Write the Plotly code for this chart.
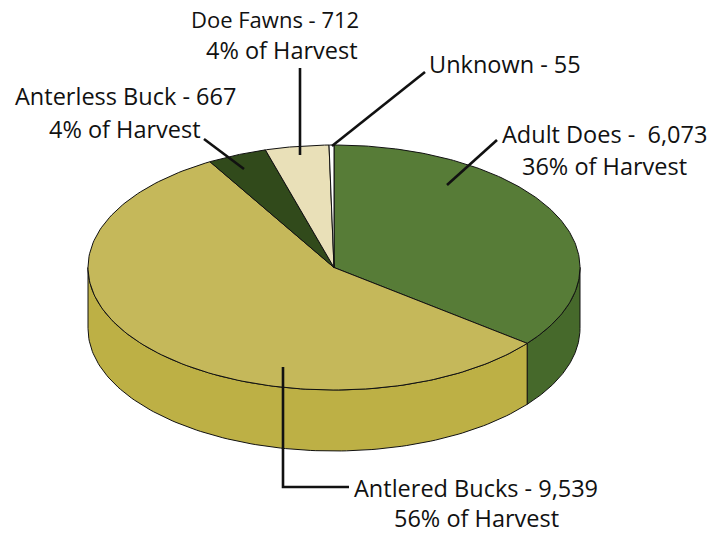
import numpy as np
import plotly.graph_objects as go

names = ["Adult Does", "Antlered Bucks", "Anterless Buck", "Doe Fawns", "Unknown"]
values = [6073, 9539, 667, 712, 55]
label_texts = [
    "Adult Does -  6,073", "36% of Harvest",
    "Antlered Bucks - 9,539", "56% of Harvest",
    "Anterless Buck - 667", "4% of Harvest",
    "Doe Fawns - 712", "4% of Harvest",
    "Unknown - 55",
]

# Styles and layout
top_colors = ["#577c37", "#c5b85a", "#314a1b", "#e9e0b8", "#ffffff"]
side_colors = ["#46692b", "#bdb045", "#314a1b", "#e9e0b8", "#ffffff"]
label_places = [
    (604, 134, 23.5), (604, 166, 23.5),
    (476, 488, 23.5), (476, 518, 23.5),
    (125, 96, 23.5), (125, 129, 23.5),
    (275, 19, 22), (282, 50, 23.5),
    (505, 64, 23.5),
]
leaders = [
    [(447, 185), (497, 140)],
    [(283, 367), (283, 487), (349, 487)],
    [(204, 139), (244, 169)],
    [(300, 68), (300, 155)],
    [(332, 146), (425, 72)],
]

cx, cy, rx, ry, depth = 334, 267.5, 246, 122.5, 61


def ex(t):
    return cx + rx * np.sin(t)


def ey(t):
    return cy - ry * np.cos(t)


fractions = np.array(values) / sum(values)
edges = np.concatenate([[0], np.cumsum(fractions)]) * 2 * np.pi

fig = go.Figure()

# Side wall: visible only on the front half of the disc
for i, name in enumerate(names):
    a, b = max(edges[i], np.pi / 2), min(edges[i + 1], 3 * np.pi / 2)
    if b <= a:
        continue
    t = np.linspace(a, b, 120)
    xs = np.concatenate([ex(t), ex(t[::-1])])
    ys = np.concatenate([ey(t), ey(t[::-1]) + depth])
    fig.add_trace(go.Scatter(x=np.append(xs, xs[0]), y=np.append(ys, ys[0]), mode="lines",
                             fill="toself", fillcolor=side_colors[i],
                             line=dict(color="#111111", width=1), hoverinfo="skip"))

# Top face
for i, name in enumerate(names):
    t = np.linspace(edges[i], edges[i + 1], 160)
    xs = np.concatenate([[cx], ex(t), [cx]])
    ys = np.concatenate([[cy], ey(t), [cy]])
    fig.add_trace(go.Scatter(x=xs, y=ys, mode="lines", fill="toself", fillcolor=top_colors[i],
                             line=dict(color="#111111", width=1), name=name, hoverinfo="skip"))

# Leader lines
for pts in leaders:
    fig.add_trace(go.Scatter(x=[p[0] for p in pts], y=[p[1] for p in pts], mode="lines",
                             line=dict(color="#111111", width=2.6), hoverinfo="skip"))

annotations = [
    dict(x=x, y=y, text=s, showarrow=False,
         font=dict(family="Open Sans", size=size, color="#111111"),
         xanchor="center", yanchor="middle", xref="x", yref="y")
    for s, (x, y, size) in zip(label_texts, label_places)
]

fig.update_layout(
    width=725, height=534, margin=dict(l=0, r=0, t=0, b=0), showlegend=False,
    paper_bgcolor="white", plot_bgcolor="white",
    xaxis=dict(range=[0, 725], visible=False, fixedrange=True),
    yaxis=dict(range=[534, 0], visible=False, fixedrange=True),
    annotations=annotations,
)
fig.write_html("out.html", config={"displayModeBar": False},
               post_script="document.body.style.margin='0';document.documentElement.style.overflow='hidden';")
